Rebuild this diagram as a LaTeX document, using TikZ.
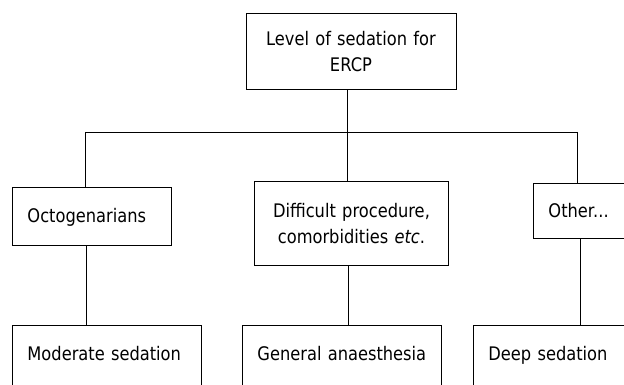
\documentclass[tikz,border=0pt]{standalone}
\usepackage{fontspec}
\setmainfont{DejaVu Sans}[FakeStretch=0.87]
\begin{document}
\begin{tikzpicture}[x=1pt,y=-1pt,
  box/.style={draw=black, line width=0.9pt, rectangle, anchor=north west, inner ysep=0pt,
              font=\fontsize{18.7pt}{25.5pt}\selectfont},
  leftbox/.style={box, inner xsep=15pt, align=left},
  centerbox/.style={box, inner xsep=10pt, align=center},
  link/.style={draw=black, line width=0.9pt}]
\useasboundingbox (0,0) rectangle (624,385);
\clip (0,0) rectangle (624,385);

\node[centerbox, text width=190pt, minimum height=76pt] (top) at (245.5,13) {Level of sedation for\\ERCP};

\node[leftbox, text width=129pt, text height=35.3pt, text depth=22.7pt] (oct) at (12,187) {Octogenarians};
\node[centerbox, text width=174pt, minimum height=84pt] (diff) at (254,181) {Difficult procedure,\\comorbidities \textit{etc}.};
\node[leftbox, text width=64pt, text height=34pt, text depth=21pt] (other) at (533,183) {Other...};

\node[leftbox, text width=159pt, text height=35.5pt, text depth=40pt] (mod) at (12,325) {Moderate sedation};
\node[leftbox, text width=169pt, text height=35.5pt, text depth=40pt] (gen) at (242,325) {General anaesthesia};
\node[leftbox, text width=140pt, text height=35.5pt, text depth=40pt] (deep) at (473,325) {Deep sedation};

\coordinate (hl) at (85,132);
\coordinate (hm) at (347,132);
\coordinate (hr) at (577,132);
\coordinate (cl) at (86,0);
\coordinate (cm) at (348,0);
\coordinate (cr) at (580,0);

\draw[link] (hl) -- (hr);
\draw[link] (hm |- top.south) -- (hm);
\draw[link] (hl) -- (hl |- oct.north);
\draw[link] (hm) -- (hm |- diff.north);
\draw[link] (hr) -- (hr |- other.north);
\draw[link] (cl |- oct.south) -- (cl |- mod.north);
\draw[link] (cm |- diff.south) -- (cm |- gen.north);
\draw[link] (cr |- other.south) -- (cr |- deep.north);
\end{tikzpicture}
\end{document}
